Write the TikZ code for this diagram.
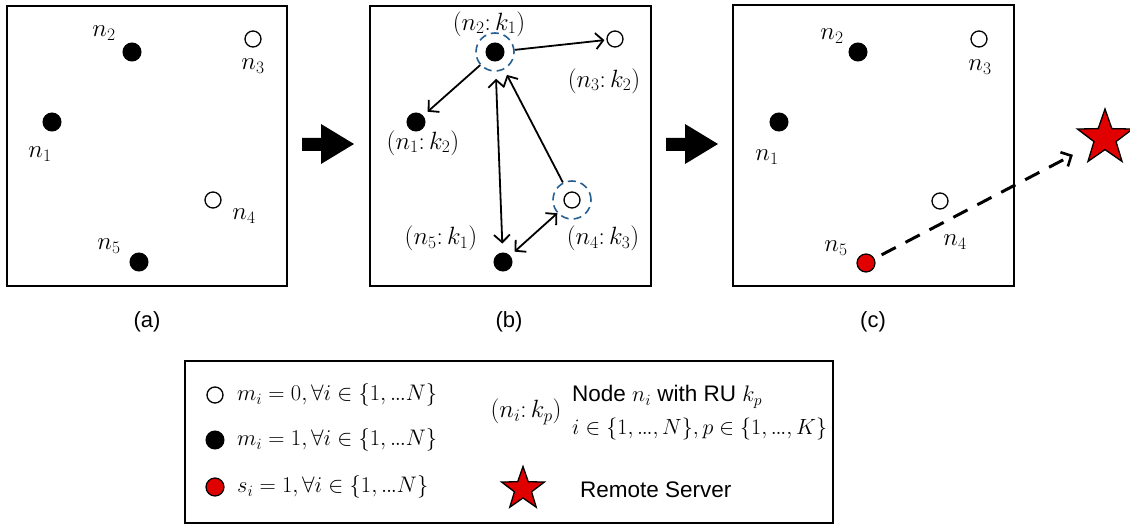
\RequirePackage{fix-cm}
\documentclass[tikz,border=0pt]{standalone}
\usepackage{fontspec}
\setmainfont{Liberation Sans}
\usetikzlibrary{arrows.meta,shapes.geometric}
\definecolor{ringblue}{RGB}{40,95,145}
\definecolor{srvred}{RGB}{225,0,0}
\newcommand{\tdots}{{\ldotp}\mkern-1mu{\ldotp}\mkern-1mu{\ldotp}}
\begin{document}
\begin{tikzpicture}[x=1pt,y=-1pt,
  every node/.style={font=\fontsize{22.5}{26}\selectfont},
  panel/.style={draw,line width=1.4pt},
  full/.style={circle,fill=black,draw=black,line width=1pt,minimum size=18pt,inner sep=0pt},
  empty/.style={circle,fill=white,draw=black,line width=1.3pt,minimum size=16pt,inner sep=0pt},
  redn/.style={circle,fill=srvred,draw=black,line width=1.2pt,minimum size=18pt,inner sep=0pt},
  ring/.style={circle,draw=ringblue,dash pattern=on 8pt off 5pt,line width=1.6pt,minimum size=38pt,inner sep=0pt},
  arr/.style={line width=1.8pt,-{Straight Barb[length=7.5pt,width=16pt,line width=1.8pt]}},
  darr/.style={line width=1.8pt,{Straight Barb[length=7.5pt,width=16pt,line width=1.8pt]}-{Straight Barb[length=7.5pt,width=16pt,line width=1.8pt]}},
  bigarrow/.style={fill=black},
  srv/.style={star,star points=5,star point ratio=2.5,fill=srvred,draw=black,line width=1.3pt,inner sep=0pt},
  mlbl/.style={inner sep=0pt,font=\fontsize{25}{29}\selectfont},
  leg/.style={inner sep=0pt,font=\fontsize{22.5}{26}\selectfont},
  legk/.style={inner sep=0pt,font=\fontsize{25}{29}\selectfont},
  sublabel/.style={inner sep=0pt,font=\fontsize{22}{26}\selectfont}
]
\useasboundingbox (0,0) rectangle (1130,524);

% ---------- panel (a)
\draw[panel] (7,6) rectangle (287,286);
\node[full]  (a1) at (52,122) {};
\node[full]  (a2) at (132,52) {};
\node[empty] (a3) at (253,39) {};
\node[empty] (a4) at (213,200) {};
\node[full]  (a5) at (139,262) {};
\node[mlbl] (la1) at (40,154) {$n_1$};
\node[mlbl] (la2) at (104,33) {$n_2$};
\node[mlbl] (la3) at (253,66) {$n_3$};
\node[mlbl] (la4) at (244,216) {$n_4$};
\node[mlbl] (la5) at (109,246) {$n_5$};
\node[sublabel] (capa) at (147,322) {(a)};

% big arrow 1
\fill[bigarrow] (302,138) -- (321,138) -- (321,124) -- (354,144) -- (321,164) -- (321,151) -- (302,151) -- cycle;

% ---------- panel (b)
\draw[panel] (370,6) rectangle (651,286);
\node[full]  (b1) at (416,122) {};
\node[full]  (b2) at (495,52) {};
\node[empty] (b3) at (615,39) {};
\node[empty] (b4) at (572,200) {};
\node[full]  (b5) at (503,262) {};
\node[ring]  (r2) at (b2) {};
\node[ring]  (r4) at (b4) {};
\node[mlbl] (lb1) at (423,143) {$(n_1{:}\,k_2)$};
\node[mlbl] (lb2) at (489,24) {$(n_2{:}\,k_1)$};
\node[mlbl] (lb3) at (604,81) {$(n_3{:}\,k_2)$};
\node[mlbl] (lb4) at (603,238) {$(n_4{:}\,k_3)$};
\node[mlbl] (lb5) at (441,238) {$(n_5{:}\,k_1)$};
\draw[arr,shorten >=2pt] (r2) -- (b3);
\draw[arr,shorten >=6pt] (r2) -- (b1);
\draw[darr,shorten <=7pt,shorten >=9pt] (r2) -- (b5);
\draw[arr,shorten >=6pt] (r4) -- (r2);
\draw[darr,shorten >=6pt] (r4) -- (b5);
\node[sublabel] (capb) at (509,322) {(b)};

% big arrow 2
\fill[bigarrow] (666,138) -- (685,138) -- (685,124) -- (718,144) -- (685,164) -- (685,151) -- (666,151) -- cycle;

% ---------- panel (c)
\draw[panel] (733,5) rectangle (1014,286);
\node[full]  (c1) at (779,122) {};
\node[full]  (c2) at (858,52) {};
\node[empty] (c3) at (979,39) {};
\node[empty] (c4) at (940,201) {};
\node[redn]  (c5) at (866,263) {};
\node[mlbl] (lc1) at (767,157) {$n_1$};
\node[mlbl] (lc2) at (832,36) {$n_2$};
\node[mlbl] (lc3) at (980,67) {$n_3$};
\node[mlbl] (lc4) at (955,242) {$n_4$};
\node[mlbl] (lc5) at (836,248) {$n_5$};
\node[srv,minimum size=58pt] (server) at (1105,138) {};
\draw[line width=3pt,dash pattern=on 16pt off 11pt,
      -{Straight Barb[length=8pt,width=16pt,line width=2.6pt]},shorten <=8pt,shorten >=22pt] (c5) -- (server);
\node[sublabel] (capc) at (873,322) {(c)};

% ---------- legend
\draw[line width=2.6pt] (185,361) rectangle (833,523);
\node[empty] (k0) at (215,395) {};
\node[full]  (k1) at (215,440) {};
\node[redn]  (k2) at (215,487) {};
\node[leg,anchor=west] (t0) at (237,395) {$m_i=0,\forall i\in\{1,\tdots N\}$};
\node[leg,anchor=west] (t1) at (237,440) {$m_i=1,\forall i\in\{1,\tdots N\}$};
\node[leg,anchor=west] (t2) at (237,487) {$s_i=1,\forall i\in\{1,\tdots N\}$};
\node[legk] (tk) at (526,412) {$(n_i{:}\,k_p)$};
\node[leg,anchor=west] (tn1) at (572,397) {Node $n_i$ with RU $k_p$};
\node[leg,anchor=west,font=\fontsize{22}{26}\selectfont] (tn2) at (572,429) {$i\in\{1,\tdots,N\},p\in\{1,\tdots,K\}$};
\node[srv,minimum size=45pt] (ks) at (523,489) {};
\node[leg,anchor=west] (tr) at (580,490) {Remote Server};
\end{tikzpicture}
\end{document}
